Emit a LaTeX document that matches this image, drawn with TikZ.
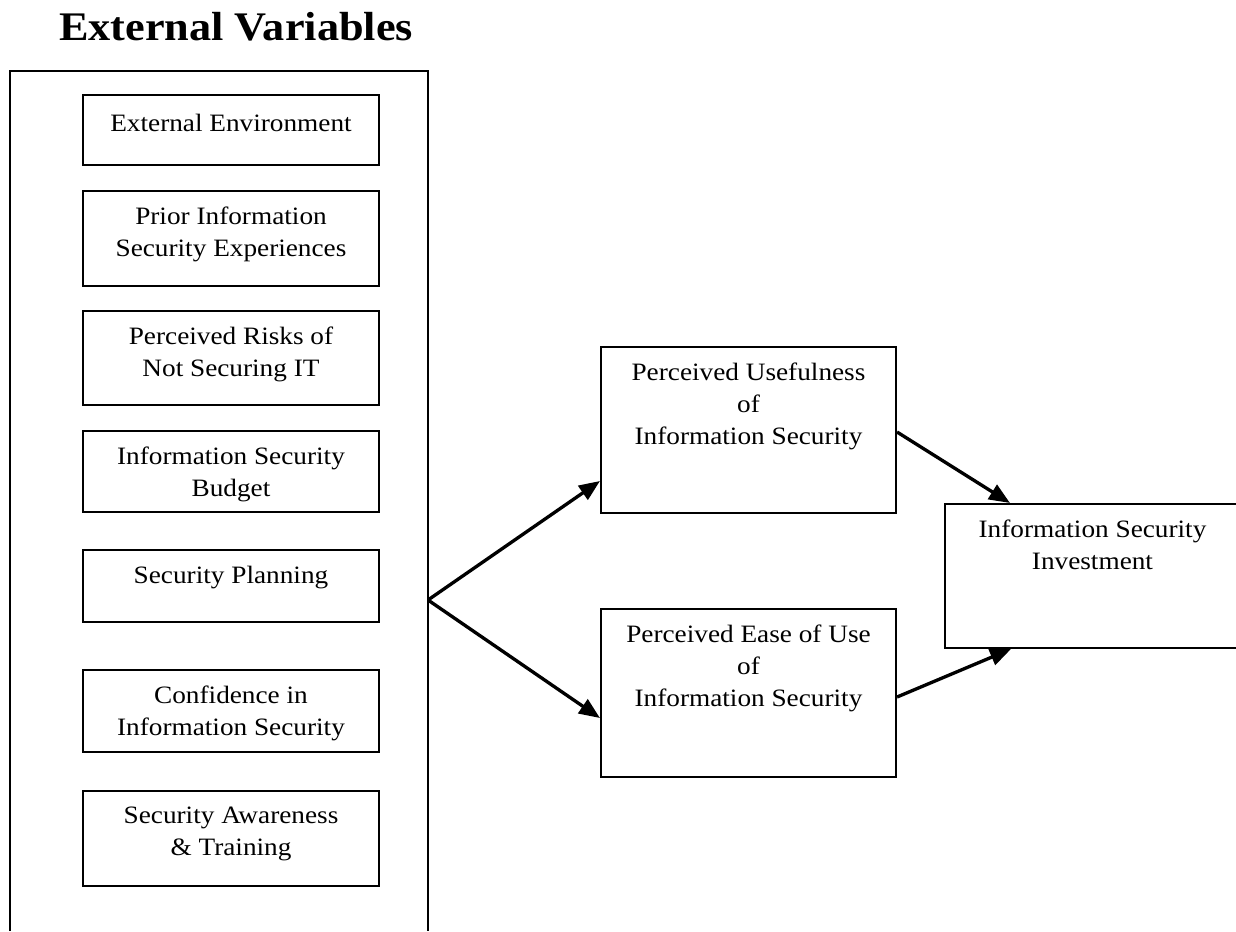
\documentclass[tikz,border=0pt]{standalone}
\usepackage{fontspec}
\setmainfont{Liberation Serif}[FakeStretch=1.09]
\usetikzlibrary{arrows.meta, positioning, calc}
\newcommand{\pxu}{0.48pt}

\begin{document}
\begin{tikzpicture}[x=\pxu, y=-\pxu,
    >={Triangle[length=10pt,width=8pt]},   %Voreinstellung für Pfeilspitzen
    font=\fontsize{12}{15.4}\selectfont,
    kasten/.style={draw, line width=1pt, inner sep=0pt},
    links/.style={kasten, minimum width=296*\pxu},
    rechts/.style={kasten, minimum width=295*\pxu},
    inhalt/.style={anchor=north, yshift=-16.5*\pxu, align=center, inner sep=0pt},
    pfeil/.style={->, line width=1.6pt}]
    %Bildbereich
    \useasboundingbox (0,0) rectangle (1236,931);
    %Ueberschrift
    \node[anchor=base, font=\fontsize{19.5}{23}\selectfont\bfseries] (titel) at (236,40) {External Variables};
    %Rahmen der externen Variablen (unten offen)
    \draw[line width=1pt] (10,931) -- (10,71) -- (428,71) -- (428,931);
    \coordinate (ev) at (428,600);
    %Externe Variablen
    \node[links, minimum height=70*\pxu, label={[inhalt, yshift=-3*\pxu]north:External Environment}] (umwelt) at (231,130) {};
    \node[links, minimum height=95*\pxu, label={[inhalt]north:{Prior Information\\Security Experiences}}] (erfahrung) at (231,238.5) {};
    \node[links, minimum height=94*\pxu, label={[inhalt]north:{Perceived Risks of\\Not Securing IT}}] (risiko) at (231,358) {};
    \node[links, minimum height=81*\pxu, label={[inhalt]north:{Information Security\\Budget}}] (budget) at (231,471.5) {};
    \node[links, minimum height=72*\pxu, label={[inhalt]north:Security Planning}] (planung) at (231,586) {};
    \node[links, minimum height=82*\pxu, label={[inhalt]north:{Confidence in\\Information Security}}] (vertrauen) at (231,711) {};
    \node[links, minimum height=95*\pxu, label={[inhalt]north:{Security Awareness\\\& Training}}] (schulung) at (231,838.5) {};
    %Wahrgenommener Nutzen und Bedienbarkeit
    \node[rechts, minimum height=166*\pxu, label={[inhalt]north:{Perceived Usefulness\\of\\Information Security}}] (nutzen) at (748.5,430) {};
    \node[rechts, minimum height=168*\pxu, label={[inhalt]north:{Perceived Ease of Use\\of\\Information Security}}] (bedienung) at (748.5,693) {};
    %Investition
    \node[rechts, minimum height=144*\pxu, label={[inhalt]north:{Information Security\\Investment}}] (invest) at (1092.5,576) {};
    %Pfeile
    \draw[pfeil] (ev) -- ([yshift=-51*\pxu]nutzen.west);
    \draw[pfeil] (ev) -- ([yshift=-25*\pxu]bedienung.west);
    \draw[pfeil] ([yshift=-2*\pxu]nutzen.east) -- ([xshift=66*\pxu]invest.north west);
    \draw[pfeil] ([yshift=-4*\pxu]bedienung.east) -- ([xshift=67*\pxu]invest.south west);
\end{tikzpicture}
\end{document}
